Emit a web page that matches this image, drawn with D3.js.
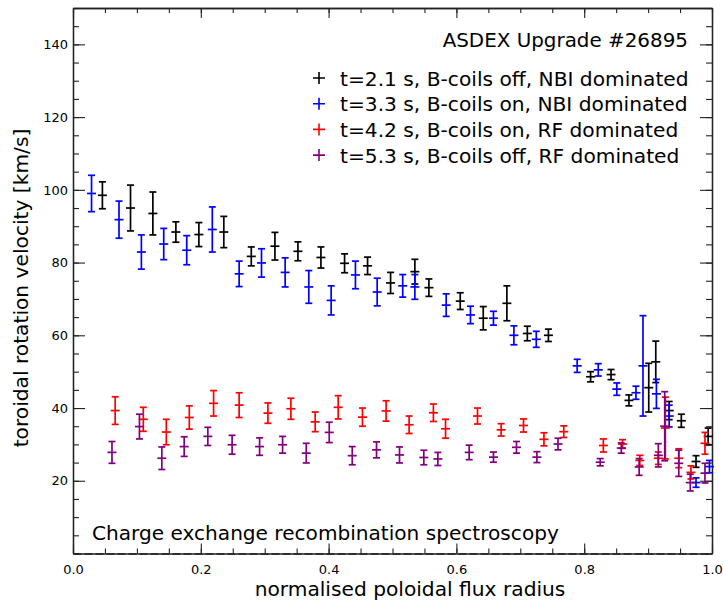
<!DOCTYPE html>
<html>
<head>
<meta charset="utf-8">
<script src="https://cdn.jsdelivr.net/npm/d3@7"></script>
<style>
  body { margin: 0; background: #fff; }
  svg { font-family: "DejaVu Sans", sans-serif; }
</style>
</head>
<body>
<script>

// t=2.1 s, B-coils off, NBI dominated
let rho21 = [0.046,0.090,0.125,0.161,0.197,0.236,0.279,0.316,0.352,0.388,0.425,0.461,0.497,0.535,0.557,0.606,0.642,0.679,0.711,0.744,0.810,0.842,0.870,0.901,0.912,0.933,0.952,0.975,0.994];
let vel21 = [98.5,95.0,93.5,88.4,87.7,88.4,81.7,84.5,83.1,81.4,79.8,79.1,74.4,77.5,73.1,69.4,64.7,68.8,60.5,60.0,48.6,49.2,42.1,45.6,52.7,39.3,36.5,25.3,32.2];
let err21 = [3.7,6.3,5.9,2.8,3.3,4.3,2.6,3.8,2.6,2.9,2.6,2.4,2.9,3.4,2.4,2.3,3.2,4.8,2.0,1.7,1.4,1.4,1.5,6.7,5.7,2.5,1.8,1.6,2.3];

// t=3.3 s, B-coils on, NBI dominated
let rho33 = [0.029,0.072,0.107,0.142,0.178,0.218,0.260,0.295,0.332,0.369,0.404,0.442,0.476,0.516,0.535,0.584,0.622,0.658,0.690,0.725,0.789,0.822,0.851,0.881,0.892,0.913,0.933,0.975,0.996];
let vel33 = [99.0,91.8,82.9,85.1,83.4,89.1,76.9,79.9,77.3,73.3,69.6,76.6,71.9,73.6,73.3,68.3,65.6,64.7,60.0,58.9,51.6,50.5,45.2,44.2,51.6,43.9,37.8,19.5,23.9];
let err33 = [5.0,5.1,4.7,4.3,4.0,6.2,3.5,3.9,4.0,4.5,4.0,3.8,3.8,3.1,3.4,3.1,2.4,1.9,2.6,2.2,1.8,1.7,1.7,1.8,13.8,4.0,3.0,1.3,1.7];

// t=4.2 s, B-coils on, RF dominated
let rho42 = [0.066,0.110,0.146,0.182,0.220,0.260,0.305,0.341,0.379,0.415,0.453,0.490,0.526,0.564,0.583,0.633,0.670,0.705,0.737,0.768,0.830,0.860,0.887,0.916,0.927,0.948,0.967,0.989];
let vel42 = [39.3,36.9,33.4,37.4,41.3,40.8,38.6,39.8,36.2,40.2,37.5,39.2,35.4,38.7,34.3,37.8,34.0,35.2,31.4,33.5,29.7,30.1,25.6,26.2,34.5,26.2,22.3,30.3];
let err42 = [3.8,3.3,3.5,3.2,3.5,3.4,2.8,2.9,2.7,3.2,2.5,2.8,2.4,2.4,2.6,2.2,1.7,1.8,1.8,1.6,1.8,1.2,1.4,1.7,8.5,2.6,1.8,3.0];

// t=5.3 s, B-coils off, RF dominated
let rho53 = [0.061,0.104,0.139,0.174,0.211,0.249,0.292,0.328,0.365,0.401,0.437,0.475,0.511,0.549,0.571,0.620,0.658,0.694,0.726,0.759,0.825,0.858,0.886,0.916,0.926,0.948,0.966,0.989];
let vel53 = [27.8,34.9,26.2,29.4,32.2,29.9,29.4,29.9,27.6,33.3,26.9,28.5,27.1,26.4,26.0,27.8,26.5,29.2,26.5,30.1,25.1,29.0,23.8,27.0,35.0,24.8,19.5,22.1];
let err53 = [3.0,3.4,3.1,2.7,2.5,2.6,2.4,2.3,2.7,2.8,2.5,2.2,2.2,2.0,1.8,2.0,1.4,1.6,1.5,1.6,1.0,1.4,2.3,3.2,9.5,3.6,2.3,2.7];

let legendLabels = ["t=2.1 s, B-coils off, NBI dominated",
                    "t=3.3 s, B-coils on, NBI dominated",
                    "t=4.2 s, B-coils on, RF dominated",
                    "t=5.3 s, B-coils off, RF dominated"];
let colors = ["#000000", "#0000ff", "#ff0000", "#800080"];

let xTicks = [0.0, 0.2, 0.4, 0.6, 0.8, 1.0];
let yTicks = [20, 40, 60, 80, 100, 120, 140];

let svgWidth = 723;
let svgHeight = 602;
let plotLeft = 73, plotRight = 712, plotTop = 8, plotBottom = 553.5;

const svg = d3.select("body")
  .append("svg")
  .attr("width", svgWidth)
  .attr("height", svgHeight);

const x = d3.scaleLinear().domain([0, 1]).range([plotLeft, plotRight]);
const y = d3.scaleLinear().domain([0, 150]).range([plotBottom, plotTop]);

let xMinor = d3.range(0, 1.0001, 0.05);
let yMinor = d3.range(0, 150.001, 5);

function styleAxis(g) {
  g.selectAll(".domain").attr("stroke", "#222").attr("stroke-width", 1.3);
  g.selectAll(".tick line").attr("stroke", "#222").attr("stroke-width", 1.1);
  g.selectAll("text").attr("font-family", "DejaVu Sans, sans-serif").attr("font-size", "13px").attr("fill", "#000");
}

// minor ticks first
svg.append("g").attr("transform", "translate(0," + plotBottom + ")")
  .call(d3.axisBottom(x).tickValues(xMinor).tickSize(-5).tickSizeOuter(0).tickFormat(""))
  .call(styleAxis);
svg.append("g").attr("transform", "translate(0," + plotTop + ")")
  .call(d3.axisTop(x).tickValues(xMinor).tickSize(-5).tickSizeOuter(0).tickFormat(""))
  .call(styleAxis);
svg.append("g").attr("transform", "translate(" + plotLeft + ",0)")
  .call(d3.axisLeft(y).tickValues(yMinor).tickSize(-6).tickSizeOuter(0).tickFormat(""))
  .call(styleAxis);
svg.append("g").attr("transform", "translate(" + plotRight + ",0)")
  .call(d3.axisRight(y).tickValues(yMinor).tickSize(-6).tickSizeOuter(0).tickFormat(""))
  .call(styleAxis);

// major ticks
const xAxis = svg.append("g").attr("transform", "translate(0," + plotBottom + ")")
  .call(d3.axisBottom(x).tickValues(xTicks).tickSize(-10).tickSizeOuter(0).tickPadding(11).tickFormat(d3.format(".1f")))
  .call(styleAxis);
xAxis.select(".domain").attr("stroke-dasharray", "8,3");
svg.append("g").attr("transform", "translate(0," + plotTop + ")")
  .call(d3.axisTop(x).tickValues(xTicks).tickSize(-10).tickSizeOuter(0).tickFormat(""))
  .call(styleAxis);
svg.append("g").attr("transform", "translate(" + plotLeft + ",0)")
  .call(d3.axisLeft(y).tickValues(yTicks).tickSize(-12).tickSizeOuter(0).tickPadding(5))
  .call(styleAxis);
svg.append("g").attr("transform", "translate(" + plotRight + ",0)")
  .call(d3.axisRight(y).tickValues(yTicks).tickSize(-12).tickSizeOuter(0).tickFormat(""))
  .call(styleAxis);

// axis titles
svg.append("text")
  .attr("x", 410)
  .attr("y", 596)
  .attr("text-anchor", "middle")
  .attr("font-size", "20.2px")
  .text("normalised poloidal flux radius");

svg.append("text")
  .attr("transform", "translate(28,288) rotate(-90)")
  .attr("text-anchor", "middle")
  .attr("font-size", "20.2px")
  .text("toroidal rotation velocity [km/s]");

// error bars with "+" markers
let series = [
  {rho: rho21, vel: vel21, err: err21},
  {rho: rho33, vel: vel33, err: err33},
  {rho: rho42, vel: vel42, err: err42},
  {rho: rho53, vel: vel53, err: err53}
];

let capHalf = 3.5;
let plusHalf = 4.5;

series.forEach(function(s, k) {
  let pts = s.rho.map(function(r, i) {
    return {r: r, v: s.vel[i], e: s.err[i]};
  });
  let g = svg.append("g")
    .attr("stroke", colors[k])
    .attr("stroke-width", 1.7)
    .attr("fill", "none");

  let pt = g.selectAll("g")
    .data(pts)
    .enter()
    .append("g");

  pt.append("line")
    .attr("x1", function(d) { return x(d.r); })
    .attr("x2", function(d) { return x(d.r); })
    .attr("y1", function(d) { return y(d.v - d.e); })
    .attr("y2", function(d) { return y(d.v + d.e); });
  pt.append("line")
    .attr("x1", function(d) { return x(d.r) - capHalf; })
    .attr("x2", function(d) { return x(d.r) + capHalf; })
    .attr("y1", function(d) { return y(d.v + d.e); })
    .attr("y2", function(d) { return y(d.v + d.e); });
  pt.append("line")
    .attr("x1", function(d) { return x(d.r) - capHalf; })
    .attr("x2", function(d) { return x(d.r) + capHalf; })
    .attr("y1", function(d) { return y(d.v - d.e); })
    .attr("y2", function(d) { return y(d.v - d.e); });
  pt.append("line")
    .attr("x1", function(d) { return x(d.r) - plusHalf; })
    .attr("x2", function(d) { return x(d.r) + plusHalf; })
    .attr("y1", function(d) { return y(d.v); })
    .attr("y2", function(d) { return y(d.v); });
});

// annotations
svg.append("text")
  .attr("x", 688)
  .attr("y", 47)
  .attr("text-anchor", "end")
  .attr("font-size", "19.9px")
  .text("ASDEX Upgrade #26895");

let legend = svg.selectAll(".legend")
  .data(legendLabels)
  .enter()
  .append("g")
  .attr("class", "legend")
  .attr("transform", function(d, i) {
    return "translate(0," + (78 + i * 25.7) + ")";
  });

legend.append("path")
  .attr("d", "M313,0H325M319,-6V6")
  .attr("stroke", function(d, i) { return colors[i]; })
  .attr("stroke-width", 1.6);

legend.append("text")
  .attr("x", 340)
  .attr("y", 7.5)
  .attr("font-size", "20.2px")
  .text(function(d) { return d; });

svg.append("text")
  .attr("x", 92)
  .attr("y", 540)
  .attr("font-size", "20.1px")
  .text("Charge exchange recombination spectroscopy");

</script>
</body>
</html>
